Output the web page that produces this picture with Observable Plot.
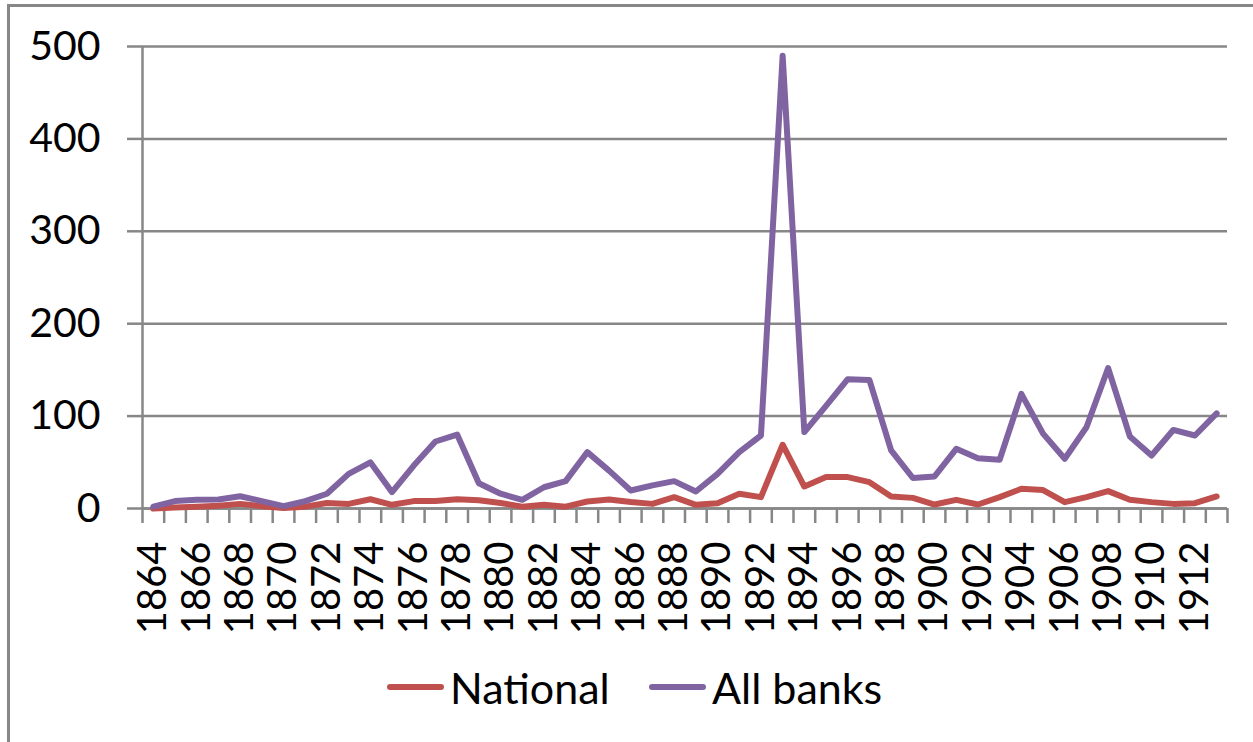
<!DOCTYPE html>
<html>
<head>
<meta charset="utf-8">
<script src="https://cdn.jsdelivr.net/npm/d3@7"></script>
<script src="https://cdn.jsdelivr.net/npm/@observablehq/plot@0.6"></script>
<style>
  body { margin: 0; background: #fff; }
  #wrap { position: relative; width: 1253px; height: 742px; overflow: hidden; font-family: Lato, "Open Sans", sans-serif; background:#fff; }
  #frame { position: absolute; left: 7px; top: 4px; width: 1400px; height: 900px; border-left: 3px solid #878787; border-top: 3px solid #878787; box-sizing: border-box; }
  #chart { position: absolute; left: 0; top: 0; }
  .leg { position: absolute; top: 662px; height: 50px; display: flex; align-items: center; font-size: 43px; color: #000; white-space: nowrap; }
  .sw { display: inline-block; width: 57px; height: 6px; border-radius: 3px; margin-right: 6px; }
</style>
</head>
<body>
<div id="wrap">
  <div id="frame"></div>
  <div id="chart"></div>
  <div class="leg" style="left:387px"><span class="sw" style="background:#C0504D"></span><span>National</span></div>
  <div class="leg" style="left:649px"><span class="sw" style="background:#8064A2"></span><span>All banks</span></div>
</div>
<script>
const years = [1864,1865,1866,1867,1868,1869,1870,1871,1872,1873,
               1874,1875,1876,1877,1878,1879,1880,1881,1882,1883,
               1884,1885,1886,1887,1888,1889,1890,1891,1892,1893,
               1894,1895,1896,1897,1898,1899,1900,1901,1902,1903,
               1904,1905,1906,1907,1908,1909,1910,1911,1912,1913];
const national = [0,1,2,3,5,2.5,0.5,2,6,5,
                  10,4,8,8,10,9,6,2,4,2,
                  7.6,9.7,7,5,12.3,4,5.8,16,12.3,69,
                  23.8,34,34,28.5,13,11.5,4.3,9.4,4.3,12.3,
                  21.3,20,6.9,12.3,18.8,9.4,6.9,5,5.8,13];
const allBanks = [2,8,9.4,9.7,13.3,8,2.5,8,16,37.5,
                  50,17.7,46.5,72.5,80,27.4,16,9.4,23,29.6,
                  61,41,19.5,25,29.6,18.4,37.5,61,79,490,
                  82.7,111,140,139,63,33,34.7,64.6,54.5,52.7,
                  124,81,53.8,88,152,78,57.4,85,79,103];
const yTicks = [0,100,200,300,400,500];
const xTickLabels = [1864,1866,1868,1870,1872,1874,1876,1878,1880,1882,1884,1886,1888,
                     1890,1892,1894,1896,1898,1900,1902,1904,1906,1908,1910,1912];

const GRAY = "#878787";
const rows = years.map((yr, i) => ({year: yr, national: national[i], all: allBanks[i]}));
const bounds = years.map(y => y - 0.5).concat([years[years.length - 1] + 0.5]);

const chart = Plot.plot({
  width: 1253,
  height: 640,
  marginLeft: 142,
  marginRight: 26,
  marginTop: 46,
  marginBottom: 132,
  style: {fontFamily: "Lato, 'Open Sans', sans-serif", background: "transparent", color: "#000"},
  x: {type: "linear", domain: [bounds[0], bounds[bounds.length - 1]]},
  y: {domain: [0, 500]},
  marks: [
    Plot.gridY(yTicks, {stroke: GRAY, strokeWidth: 2.5, strokeOpacity: 1}),
    Plot.ruleX([bounds[0]], {stroke: GRAY, strokeWidth: 2.5}),
    Plot.axisY({ticks: yTicks, tickSize: 15, tickPadding: 27, fontSize: 41, stroke: GRAY, strokeWidth: 2.5, color: "#000", label: null, tickFormat: d => String(d)}),
    Plot.axisX({ticks: bounds, tickSize: 15, stroke: GRAY, strokeWidth: 2.5, tickFormat: () => "", label: null}),
    Plot.axisX({ticks: xTickLabels, tickSize: 0, tickPadding: 33, tickRotate: -90, fontSize: 40, color: "#000", label: null, tickFormat: d => String(d)}),
    Plot.ruleY([0], {stroke: GRAY, strokeWidth: 2.5}),
    Plot.line(rows, {x: "year", y: "national", stroke: "#C0504D", strokeWidth: 6, strokeLinejoin: "round", strokeLinecap: "round"}),
    Plot.line(rows, {x: "year", y: "all", stroke: "#8064A2", strokeWidth: 6, strokeLinejoin: "round", strokeLinecap: "round"})
  ]
});
document.getElementById("chart").appendChild(chart);
</script>
</body>
</html>
